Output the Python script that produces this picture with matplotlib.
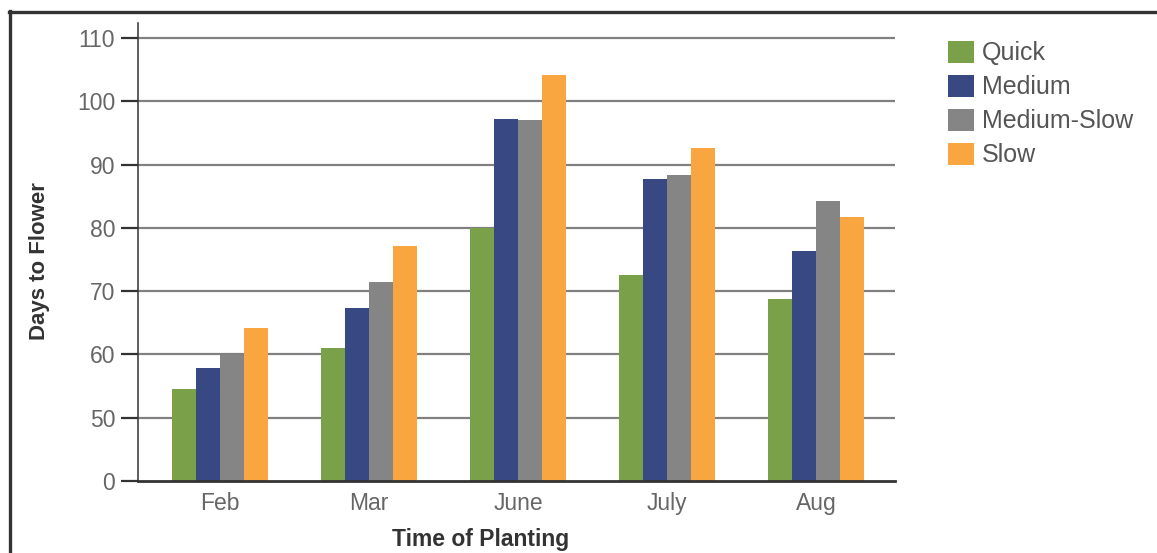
import matplotlib
matplotlib.use("Agg")
import matplotlib.pyplot as plt
from matplotlib.lines import Line2D
import numpy as np

months = ["Feb", "Mar", "June", "July", "Aug"]
series_names = ["Quick", "Medium", "Medium-Slow", "Slow"]
quick = [54.6, 61.0, 80.0, 72.6, 68.8]
medium = [57.9, 67.3, 97.3, 87.8, 76.4]
medium_slow = [59.9, 71.4, 97.1, 88.4, 84.2]
slow = [64.2, 77.1, 104.2, 92.7, 81.7]
y_ticks = [40, 50, 60, 70, 80, 90, 100, 110]
y_tick_labels = ["0", "50", "60", "70", "80", "90", "100", "110"]

colors = ["#7aa04a", "#384882", "#858585", "#f9a640"]
series = [quick, medium, medium_slow, slow]

plt.rcParams["font.family"] = ["Liberation Sans", "DejaVu Sans"]

fig = plt.figure(figsize=(11.57, 5.53), dpi=100)
ax = fig.add_axes([0.1193, 0.1302, 0.7735 - 0.1193, 0.9584 - 0.1302])

x = np.arange(len(months))
w = 0.161
for i, (vals, c, name) in enumerate(zip(series, colors, series_names)):
    ax.bar(x + (i - 1.5) * w, vals, width=w, color=c, label=name, zorder=3)

ax.set_ylim(40, 112.4)
ax.set_xlim(-0.55, 4.53)
ax.set_yticks(y_ticks)
ax.set_yticklabels(y_tick_labels)
ax.set_xticks(x)
ax.set_xticklabels(months)

for t in y_ticks[1:]:
    ax.axhline(t, color="#808080", lw=1.6, zorder=1)

for s in ["top", "right"]:
    ax.spines[s].set_visible(False)
ax.spines["left"].set_color("#333333")
ax.spines["left"].set_linewidth(1.1)
ax.spines["bottom"].set_color("#333333")
ax.spines["bottom"].set_linewidth(2.0)
ax.spines["bottom"].set_zorder(4)

ax.tick_params(axis="y", length=12.5, width=1.6, color="#333333", pad=4,
               labelsize=16.5, labelcolor="#666666")
ax.tick_params(axis="x", length=0, pad=8, labelsize=16.5, labelcolor="#666666")

ax.set_ylabel("Days to Flower", fontsize=16, fontweight="bold", color="#333333",
              labelpad=19, y=0.48)
ax.set_xlabel("Time of Planting", fontsize=16.5, fontweight="bold", color="#333333",
              labelpad=9, x=0.452)

leg = fig.legend(loc="upper left", bbox_to_anchor=(948 / 1157, 1 - 41 / 553),
                 frameon=False, handlelength=1.04, handleheight=0.96,
                 labelspacing=0.38, handletextpad=0.33, borderaxespad=0, borderpad=0,
                 prop={"family": "Liberation Sans", "size": 18})
for t in leg.get_texts():
    t.set_color("#555555")

# frame lines around figure
fig.add_artist(Line2D([9.5 / 1157, 9.5 / 1157], [0, 1 - 11 / 553], transform=fig.transFigure,
                      color="#333333", lw=2.4))
fig.add_artist(Line2D([8.5 / 1157, 1], [1 - 11.5 / 553, 1 - 11.5 / 553], transform=fig.transFigure,
                      color="#333333", lw=2.4))

fig.savefig("out.png", dpi=100)
